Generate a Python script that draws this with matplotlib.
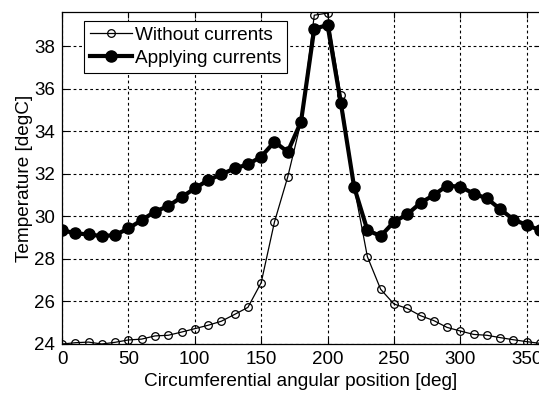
import matplotlib
matplotlib.use("Agg")
import matplotlib.pyplot as plt
import numpy as np

plt.rcParams['font.family'] = ['Liberation Sans', 'DejaVu Sans']

angle = list(range(0, 361, 10))
without_currents = [24.0, 24.06, 24.09, 24.0, 24.08, 24.19, 24.23, 24.38, 24.41, 24.56,
                    24.72, 24.88, 25.07, 25.39, 25.72, 26.88, 29.73, 31.85, 34.44, 39.45,
                    39.55, 35.69, 31.39, 28.1, 26.57, 25.88, 25.67, 25.33, 25.1, 24.78,
                    24.61, 24.45, 24.41, 24.3, 24.2, 24.11, 24.03]
applying_currents = [29.35, 29.2, 29.15, 29.07, 29.12, 29.43, 29.82, 30.22, 30.48, 30.9,
                     31.31, 31.7, 31.97, 32.25, 32.44, 32.8, 33.5, 33.03, 34.44, 38.82,
                     38.98, 35.33, 31.38, 29.35, 29.07, 29.74, 30.09, 30.63, 31.0, 31.44,
                     31.39, 31.07, 30.84, 30.34, 29.85, 29.59, 29.35]
xticks = [0, 50, 100, 150, 200, 250, 300, 350]
yticks = [24, 26, 28, 30, 32, 34, 36, 38]

W, H = 539, 393
fig = plt.figure(figsize=(W / 100, H / 100), dpi=100)
ax = fig.add_axes([62 / W, (H - 344) / H, 478 / W, 332 / H])

ax.plot(angle, without_currents, color='black', lw=0.9, marker='o', ms=5.5,
        mfc='none', mec='black', mew=0.9, label='Without currents')
ax.plot(angle, applying_currents, color='black', lw=3.0, marker='o', ms=8,
        mfc='black', mec='black', label='Applying currents')

ax.set_xlim(0, 360)
ax.set_ylim(24, 39.6)
ax.set_xticks(xticks)
ax.set_yticks(yticks)
ax.tick_params(direction='in', top=True, right=True, labelsize=13.5, length=4,
               width=0.8, pad=5)
ax.grid(True, color='black', linestyle=(0, (2.5, 2.5)), linewidth=0.8)
for s in ax.spines.values():
    s.set_linewidth(0.9)

ax.set_xlabel('Circumferential angular position [deg]', fontsize=13.7, labelpad=4)
ax.set_ylabel('Temperature [degC]', fontsize=13.7, labelpad=1)

leg = ax.legend(loc='upper left', bbox_to_anchor=(22 / 478, 1 - 9 / 332),
                fontsize=13.7, frameon=True, fancybox=False, edgecolor='black',
                framealpha=1, borderpad=0.3, handlelength=2.2, handletextpad=0.2,
                labelspacing=0.3, borderaxespad=0)
leg.get_frame().set_linewidth(0.8)

fig.savefig('out.png', dpi=100)
